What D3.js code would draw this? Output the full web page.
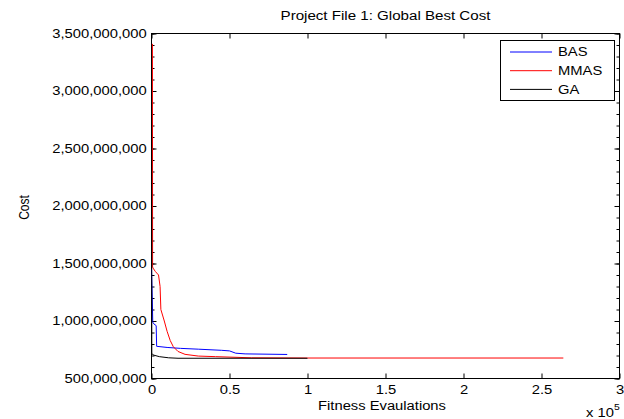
<!DOCTYPE html>
<html>
<head>
<meta charset="utf-8">
<script src="https://cdn.jsdelivr.net/npm/d3@7"></script>
<style>
  body { margin: 0; background: #fff; }
  svg { display: block; font-family: Arial, "Liberation Sans", sans-serif; }
</style>
</head>
<body>
<svg id="chart" width="624" height="419"></svg>
<script>
// series (fitness evaluations vs global best cost)
const basEvals = [0, 500, 800, 1500, 3000, 3300, 10000, 18600, 30000, 45000, 50000, 54000, 60000, 87000];
const basCost  = [1.45e9, 1.2e9, 0.99e9, 0.975e9, 0.96e9, 0.78e9, 0.77e9, 0.762e9, 0.755e9, 0.745e9, 0.74e9, 0.72e9, 0.714e9, 0.709e9];

const mmasEvals = [600, 650, 700, 1000, 2500, 4500, 5500, 6000, 8200, 10000, 12000, 14000, 17000, 21500, 30000, 41000, 64000, 100000, 264000];
const mmasCost  = [3.41e9, 2.5e9, 1.47e9, 1.46e9, 1.43e9, 1.40e9, 1.30e9, 1.10e9, 1.0e9, 0.91e9, 0.83e9, 0.776e9, 0.735e9, 0.71e9, 0.695e9, 0.69e9, 0.68e9, 0.678e9, 0.678e9];

const gaEvals = [0, 200, 1000, 5000, 11000, 17000, 100000];
const gaCost  = [3.3e9, 0.72e9, 0.705e9, 0.69e9, 0.68e9, 0.676e9, 0.676e9];

const seriesNames  = ['BAS', 'MMAS', 'GA'];
const seriesColors = ['#0000ff', '#ff0000', '#000000'];

const xTicks      = [0, 50000, 100000, 150000, 200000, 250000, 300000];
const xTickLabels = ['0', '0.5', '1', '1.5', '2', '2.5', '3'];
const yTicks      = [5e8, 1e9, 1.5e9, 2e9, 2.5e9, 3e9, 3.5e9];
const yTickLabels = ['500,000,000', '1,000,000,000', '1,500,000,000', '2,000,000,000',
                     '2,500,000,000', '3,000,000,000', '3,500,000,000'];
const yMinorStep = 1e8;

const titleText = 'Project File 1: Global Best Cost';
const xLabel = 'Fitness Evaulations';
const yLabel = 'Cost';

// the original figure is stretched horizontally, so text is too
const SX = 1.23;
const FS = 12;

const svg = d3.select('#chart');
const pLeft = 151.5, pRight = 619.5, pTop = 33.5, pBottom = 378.5;

const x = d3.scaleLinear().domain([0, 300000]).range([pLeft, pRight]);
const y = d3.scaleLinear().domain([5e8, 3.5e9]).range([pBottom, pTop]);

svg.append('rect').attr('width', 624).attr('height', 419).attr('fill', '#fff');

// axes (ticks point inward, MATLAB style)
const yMinor = d3.range(5e8, 3.5e9 + 1, yMinorStep);

const gx = svg.append('g').attr('transform', `translate(0,${pBottom})`)
  .call(d3.axisBottom(x).tickValues(xTicks).tickFormat((d, i) => xTickLabels[i])
    .tickSizeInner(-5).tickSizeOuter(0).tickPadding(7));
const gxt = svg.append('g').attr('transform', `translate(0,${pTop})`)
  .call(d3.axisTop(x).tickValues(xTicks).tickFormat('').tickSizeInner(-5).tickSizeOuter(0));

const gy = svg.append('g').attr('transform', `translate(${pLeft},0)`)
  .call(d3.axisLeft(y).tickValues(yTicks).tickFormat((d, i) => yTickLabels[i])
    .tickSizeInner(-5).tickSizeOuter(0).tickPadding(4));
const gyr = svg.append('g').attr('transform', `translate(${pRight},0)`)
  .call(d3.axisRight(y).tickValues(yTicks).tickFormat('').tickSizeInner(-5).tickSizeOuter(0));
const gym = svg.append('g').attr('transform', `translate(${pLeft},0)`)
  .call(d3.axisLeft(y).tickValues(yMinor).tickFormat('').tickSizeInner(-3).tickSizeOuter(0));
const gymr = svg.append('g').attr('transform', `translate(${pRight},0)`)
  .call(d3.axisRight(y).tickValues(yMinor).tickFormat('').tickSizeInner(-3).tickSizeOuter(0));

[gx, gxt, gy, gyr, gym, gymr].forEach(g => {
  g.select('.domain').remove();
  g.selectAll('line').attr('stroke', '#000');
  g.selectAll('text').attr('font-size', FS).attr('fill', '#000')
    .attr('font-family', 'Arial, "Liberation Sans", sans-serif')
    .attr('transform', `scale(${SX},1)`);
});

// frame
svg.append('rect')
  .attr('x', pLeft).attr('y', pTop)
  .attr('width', pRight - pLeft).attr('height', pBottom - pTop)
  .attr('fill', 'none').attr('stroke', '#000').attr('stroke-width', 1);

// curves drawn over the frame, clipped to the plot box
svg.append('clipPath').attr('id', 'clip')
  .append('rect').attr('x', pLeft - 1).attr('y', pTop).attr('width', pRight - pLeft + 1).attr('height', pBottom - pTop);

const line = d3.line().x(d => x(d[0])).y(d => y(d[1]));
const data = [
  d3.zip(basEvals, basCost),
  d3.zip(mmasEvals, mmasCost),
  d3.zip(gaEvals, gaCost)
];
const plot = svg.append('g').attr('clip-path', 'url(#clip)');
data.forEach((pts, i) => {
  plot.append('path')
    .datum(pts)
    .attr('fill', 'none')
    .attr('stroke', seriesColors[i])
    .attr('stroke-width', 1)
    .attr('d', line);
});

// title and labels
function stretched(tx, ty, txt, size, anchor) {
  return svg.append('text')
    .attr('transform', `translate(${tx},${ty}) scale(${SX},1)`)
    .attr('text-anchor', anchor || 'middle')
    .attr('font-size', size)
    .attr('fill', '#000')
    .text(txt);
}
stretched((pLeft + pRight) / 2, 20, titleText, 12.3);
stretched(382, 410, xLabel, FS);

const xe = stretched(586, 417, '', FS, 'start');
xe.append('tspan').text('x 10');
xe.append('tspan').attr('font-size', 8.5).attr('dy', -7).text('5');

svg.append('text')
  .attr('transform', `translate(28.5,207.5) rotate(-90) scale(1,${SX})`)
  .attr('text-anchor', 'middle')
  .attr('font-size', FS)
  .attr('fill', '#000')
  .text(yLabel);

// legend
const lg = svg.append('g');
lg.append('rect')
  .attr('x', 500.5).attr('y', 40.5).attr('width', 114).attr('height', 60)
  .attr('fill', '#fff').attr('stroke', '#000').attr('stroke-width', 1);
seriesNames.forEach((name, i) => {
  const ly = 52 + i * 18.7;
  lg.append('line')
    .attr('x1', 510).attr('x2', 552).attr('y1', ly).attr('y2', ly)
    .attr('stroke', seriesColors[i]).attr('stroke-width', 1);
  lg.append('text')
    .attr('transform', `translate(558,${ly + 4.3}) scale(${SX},1)`)
    .attr('font-size', FS)
    .attr('fill', '#000')
    .text(name);
});
</script>
</body>
</html>
